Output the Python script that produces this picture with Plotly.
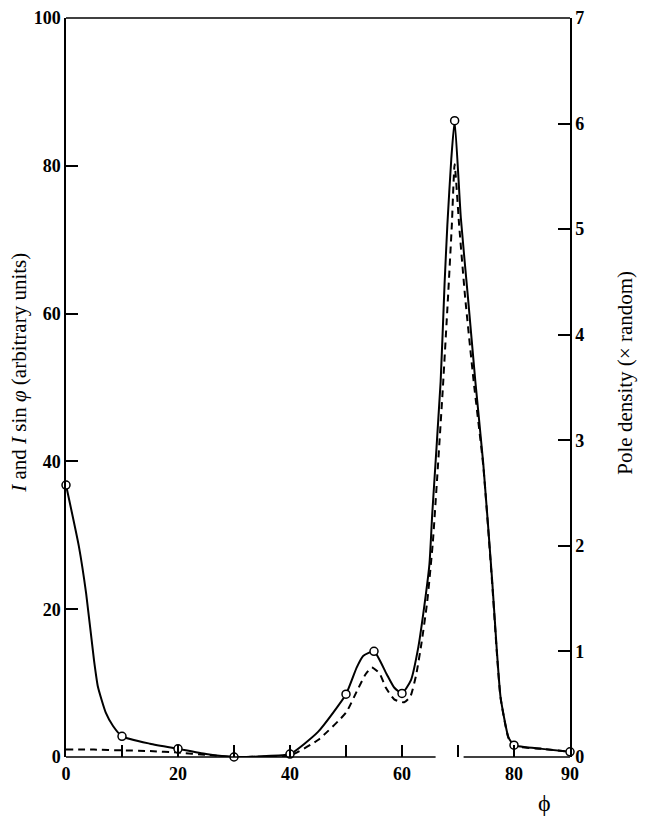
import plotly.graph_objects as go

# measured points (open circles), phi in degrees
phi_pts = [0, 10, 20, 30, 40, 50, 55, 60, 69.4, 80, 90]
I_pts = [36.8, 2.8, 1.1, 0.0, 0.4, 8.5, 14.3, 8.6, 86.1, 1.6, 0.7]

# solid curve I
phi_I = [0, 2.3, 3.6, 5.0, 5.7, 7.1, 8.4, 10, 15, 20, 25, 30, 35, 40, 45, 50,
         51.9, 53.1, 55, 57.2, 58.6, 60, 61.6, 62.9, 63.8, 64.9, 65.4, 66.9,
         67.6, 68.1, 68.8, 69.4, 70.5, 71.8, 73.1, 74.5, 76.1, 76.9, 77.6, 79.0,
         80, 85, 90]
I_curve = [36.8, 28.5, 22.1, 13.1, 9.5, 6.0, 4.2, 2.8, 1.8, 1.1, 0.4, 0.0, 0.1, 0.4, 3.4, 8.5,
           12.1, 13.7, 14.3, 11.3, 9.4, 8.6, 10.4, 14.8, 19.4, 26.1, 32.9, 50.8,
           64, 72, 80.9, 86.1, 73, 62, 50.8, 39.8, 23.9, 14.8, 8.1, 2.7,
           1.6, 1.1, 0.7]

# dashed curve I sin(phi)
phi_Isin = [0, 5, 10, 15, 20, 25, 30, 35, 40, 45, 50, 52, 53.5, 54.6, 56, 57.1,
            58.6, 60.4, 61.5, 62.5, 63.5, 64.5, 65.5, 66.3, 67.3, 68.2, 68.9, 69.4,
            70.2, 71.3, 72.8, 74.5, 76.1, 76.9, 77.6, 79.0, 80, 85, 90]
Isin_curve = [1.0, 1.0, 0.9, 0.8, 0.6, 0.3, 0.0, 0.05, 0.2, 2.3, 6.0, 9.0, 11.2, 12.1, 11.3, 9.4,
              7.8, 7.4, 8.2, 11, 15.5, 21, 29, 38, 50, 62, 72, 80.2,
              72, 62, 50.8, 39.5, 23.5, 14.5, 8.0, 2.6, 1.5, 1.1, 0.7]

x_ticks = [0, 10, 20, 30, 40, 50, 60, 70, 80, 90]
x_ticktext = ['0', '', '20', '', '40', '', '60', '', '80', '90']
left_ticks = [0, 20, 40, 60, 80, 100]
right_ticks = [0, 1, 2, 3, 4, 5, 6, 7]

FONT = 'Liberation Serif'
tick_font = dict(family=FONT, size=18, color='black', weight='bold')

fig = go.Figure()

fig.add_trace(go.Scatter(
    x=phi_Isin, y=Isin_curve, mode='lines',
    line=dict(color='black', width=2, dash='7px,5px', shape='spline', smoothing=0.5),
    showlegend=False, cliponaxis=False
))
fig.add_trace(go.Scatter(
    x=phi_I, y=I_curve, mode='lines',
    line=dict(color='black', width=2, shape='spline', smoothing=0.5),
    showlegend=False, cliponaxis=False
))
fig.add_trace(go.Scatter(
    x=phi_pts, y=I_pts, mode='markers',
    marker=dict(symbol='circle', size=8, color='white',
                line=dict(color='black', width=1.5)),
    showlegend=False, cliponaxis=False
))
# empty trace so the right-hand axis is drawn
fig.add_trace(go.Scatter(x=[None], y=[None], yaxis='y2', showlegend=False))

# bottom axis line, broken where the peak passes through
for x0, x1 in [(0, 66), (71, 90)]:
    fig.add_shape(type='line', xref='x', yref='paper', x0=x0, x1=x1, y0=0, y1=0,
                  line=dict(color='black', width=1.5))
# top frame line
fig.add_shape(type='line', xref='paper', yref='paper', x0=0, x1=1, y0=1, y1=1,
              line=dict(color='black', width=1.5))

axis_common = dict(ticks='inside', ticklen=12, tickwidth=1.5, tickcolor='black',
                   showgrid=False, zeroline=False, automargin=False,
                   ticklabeloverflow='allow', tickfont=tick_font)

# the page body adds 8px, so the margins are pulled in by that much
fig.update_layout(
    width=668, height=823,
    margin=dict(l=58, r=106, t=10, b=74),
    plot_bgcolor='white', paper_bgcolor='white',
    font=dict(family=FONT, size=18, color='black'),
    xaxis=dict(range=[0, 90], tickmode='array', tickvals=x_ticks, ticktext=x_ticktext,
               showline=False, ticklabelstandoff=4, **axis_common),
    yaxis=dict(range=[0, 100], tickmode='array', tickvals=left_ticks,
               showline=True, linecolor='black', linewidth=1.5, **axis_common),
    yaxis2=dict(range=[0, 7], tickmode='array', tickvals=right_ticks,
                overlaying='y', side='right',
                showline=True, linecolor='black', linewidth=1.5, **axis_common),
)

fig.add_annotation(
    text='<i>I</i> and <i>I</i> sin <i>φ</i> (arbitrary units)',
    xref='paper', yref='paper', x=-0.093, y=0.52, textangle=-90,
    showarrow=False, font=dict(family=FONT, size=21), xanchor='center', yanchor='middle'
)
fig.add_annotation(
    text='Pole density (× random)',
    xref='paper', yref='paper', x=1.109, y=0.52, textangle=-90,
    showarrow=False, font=dict(family=FONT, size=21), xanchor='center', yanchor='middle'
)
fig.add_annotation(
    text='ϕ', xref='paper', yref='paper', x=0.95, y=-0.062,
    showarrow=False, font=dict(family=FONT, size=24), xanchor='center', yanchor='middle'
)

fig.write_html('out.html')
